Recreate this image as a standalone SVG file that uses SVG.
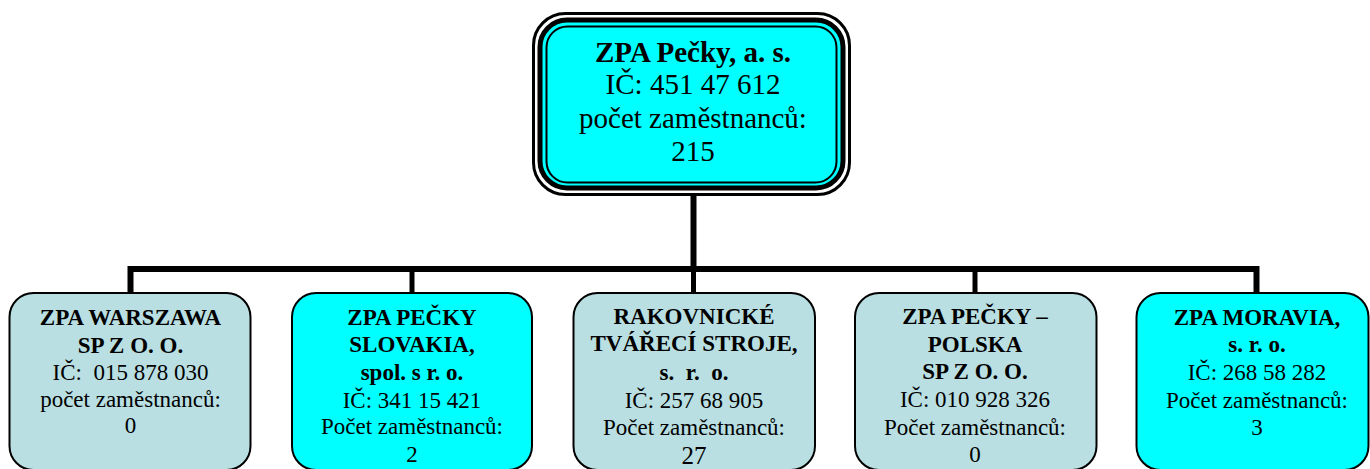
<svg xmlns="http://www.w3.org/2000/svg" width="1370" height="469" viewBox="0 0 1370 469">
<style>
text{font-family:"Liberation Serif","Times New Roman",serif;text-anchor:middle;fill:#000;white-space:pre}
.t{font-size:29px}
.c{font-size:23px}
.b{font-weight:bold}
.box{stroke:#000;stroke-width:2}
.cy{fill:#00FFFF}
.lb{fill:#B9DFE2}
.conn{stroke:#000;fill:none;stroke-linecap:butt}
</style>
<g id="connectors">
<line class="conn" x1="693.5" y1="194" x2="693.5" y2="269" stroke-width="6"/>
<path class="conn" d="M130.5,293 V269 H1256.5 V293" stroke-width="6" stroke-linejoin="miter"/>
<line class="conn" x1="412" y1="269" x2="412" y2="293" stroke-width="5"/>
<line class="conn" x1="693.5" y1="269" x2="693.5" y2="293" stroke-width="5"/>
<line class="conn" x1="975" y1="269" x2="975" y2="293" stroke-width="5"/>
</g>
<g id="root">
<rect x="533.5" y="13.5" width="316" height="181" rx="32" fill="#fff" stroke="#000" stroke-width="3"/>
<rect x="540" y="20" width="303" height="168" rx="27" class="cy" stroke="#000" stroke-width="5"/>
<rect x="546.5" y="26.5" width="290" height="156" rx="21" fill="none" stroke="#000" stroke-width="2"/>
<text class="t b" x="693" y="62">ZPA Pečky, a. s.</text>
<text class="t" x="693" y="94">IČ: 451 47 612</text>
<text class="t" x="693" y="128">počet zaměstnanců:</text>
<text class="t" x="693" y="161">215</text>
</g>
<g id="warszawa">
<rect class="box lb" x="9.5" y="293" width="241" height="177" rx="24"/>
<text class="c b" x="130.5" y="325">ZPA WARSZAWA</text>
<text class="c b" x="130.5" y="353">SP Z O. O.</text>
<text class="c" x="130.5" y="380">IČ:  015 878 030</text>
<text class="c" x="130.5" y="407">počet zaměstnanců:</text>
<text class="c" x="130.5" y="433">0</text>
</g>
<g id="slovakia">
<rect class="box cy" x="292" y="293" width="240" height="177" rx="24"/>
<text class="c b" x="412" y="325">ZPA PEČKY</text>
<text class="c b" x="412" y="352">SLOVAKIA,</text>
<text class="c b" x="412" y="380">spol. s r. o.</text>
<text class="c" x="412" y="408">IČ: 341 15 421</text>
<text class="c" x="412" y="434">Počet zaměstnanců:</text>
<text class="c" x="412" y="462">2</text>
</g>
<g id="rakovnicke">
<rect class="box lb" x="573.5" y="293" width="241.5" height="177" rx="24"/>
<text class="c b" x="694" y="323.5">RAKOVNICKÉ</text>
<text class="c b" x="694" y="351">TVÁŘECÍ STROJE,</text>
<text class="c b" x="694" y="380">s.  r.  o.</text>
<text class="c" x="694" y="408">IČ: 257 68 905</text>
<text class="c" x="694" y="435">Počet zaměstnanců:</text>
<text x="694" y="463.5" style="font-size:25px">27</text>
</g>
<g id="polska">
<rect class="box lb" x="855" y="293" width="241.5" height="177" rx="24"/>
<text class="c b" x="975" y="324">ZPA PEČKY –</text>
<text class="c b" x="975" y="352">POLSKA</text>
<text class="c b" x="975" y="379">SP Z O. O.</text>
<text class="c" x="975" y="407">IČ: 010 928 326</text>
<text class="c" x="975" y="434.5">Počet zaměstnanců:</text>
<text class="c" x="975" y="462">0</text>
</g>
<g id="moravia">
<rect class="box cy" x="1136.5" y="293" width="232" height="177" rx="24"/>
<text class="c b" x="1257" y="325">ZPA MORAVIA,</text>
<text class="c b" x="1257" y="352">s. r. o.</text>
<text class="c" x="1257" y="380">IČ: 268 58 282</text>
<text class="c" x="1257" y="407.5">Počet zaměstnanců:</text>
<text class="c" x="1257" y="434.5">3</text>
</g>
</svg>
